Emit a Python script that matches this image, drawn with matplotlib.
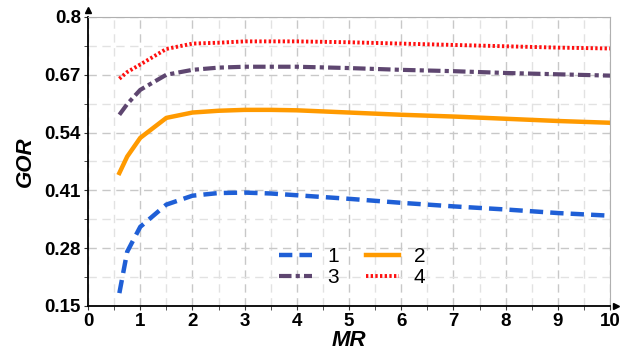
import matplotlib.pyplot as plt
import numpy as np

plt.rcParams['font.family'] = ['Liberation Sans', 'DejaVu Sans']

mr = [0.6, 0.75, 1.0, 1.5, 2.0, 2.5, 3.0, 3.5, 4.0, 5.0, 6.0, 7.0, 8.0, 9.0, 10.0]
gor1 = [0.179, 0.272, 0.328, 0.378, 0.398, 0.404, 0.405, 0.403, 0.399, 0.391, 0.382, 0.374, 0.367, 0.359, 0.353]
gor2 = [0.449, 0.486, 0.528, 0.573, 0.585, 0.589, 0.591, 0.591, 0.590, 0.585, 0.580, 0.576, 0.571, 0.566, 0.562]
gor3 = [0.580, 0.604, 0.636, 0.670, 0.681, 0.686, 0.688, 0.688, 0.688, 0.685, 0.681, 0.678, 0.674, 0.671, 0.668]
gor4 = [0.661, 0.676, 0.693, 0.728, 0.740, 0.742, 0.745, 0.745, 0.745, 0.743, 0.740, 0.737, 0.734, 0.731, 0.729]

xticks = np.arange(0, 11, 1)
yticks = [0.15, 0.28, 0.41, 0.54, 0.67, 0.8]
ytick_labels = ['0.15', '0.28', '0.41', '0.54', '0.67', '0.8']

fig = plt.figure(figsize=(6.2, 3.6), dpi=100)
ax = fig.add_axes([0.142, 0.15, 0.842, 0.803])

l1, = ax.plot(mr, gor1, color='#1f5fd6', lw=3.2, ls=(0, (3, 1.6)), label='1')
l2, = ax.plot(mr, gor2, color='#ff9a00', lw=3.2, ls='-', label='2')
l3, = ax.plot(mr, gor3, color='#5e4670', lw=3.0, ls=(0, (3, 1, 1, 1)), label='3')
l4, = ax.plot(mr, gor4, color='#ff1010', lw=2.8, ls=(0, (0.6, 0.6)), label='4')

ax.set_xlim(0, 10)
ax.set_ylim(0.15, 0.8)
ax.set_xticks(xticks)
ax.set_yticks(yticks)
ax.set_yticklabels(ytick_labels)
ax.set_xticks(np.arange(0.5, 10, 1), minor=True)
ax.set_yticks([0.215, 0.345, 0.475, 0.605, 0.735], minor=True)
ax.grid(True, which='major', color='#c8c8c8', ls=(0, (6, 4)), lw=1.0)
ax.grid(True, which='minor', color='#e2e2e2', ls=(0, (6, 4)), lw=1.0)
ax.set_axisbelow(True)

for lbl in ax.get_xticklabels() + ax.get_yticklabels():
    lbl.set_fontweight('bold')
    lbl.set_fontsize(13.5)
ax.tick_params(which='both', direction='out', length=3, color='#333333', pad=2)

ax.spines['top'].set_color('#b0b0b0')
ax.spines['right'].set_color('#b0b0b0')
ax.spines['left'].set_color('black')
ax.spines['bottom'].set_color('black')
ax.spines['left'].set_linewidth(1.3)
ax.spines['bottom'].set_linewidth(1.3)

ax.plot(0, 1.025, marker='^', color='black', markersize=5, transform=ax.transAxes, clip_on=False)
ax.plot(1.012, 0, marker='>', color='black', markersize=5, transform=ax.transAxes, clip_on=False)

ax.set_xlabel('MR', fontsize=16, fontweight='bold', style='italic', labelpad=0)
ax.set_ylabel('GOR', fontsize=16, fontweight='bold', style='italic', labelpad=6)

ax.legend([l1, l3, l2, l4], ['1', '3', '2', '4'], ncol=2, loc='lower left',
          bbox_to_anchor=(0.33, 0.0), frameon=False, fontsize=15,
          handlelength=1.6, handletextpad=0.7, columnspacing=1.3, labelspacing=0.1)

fig.savefig('out.png', dpi=100)
